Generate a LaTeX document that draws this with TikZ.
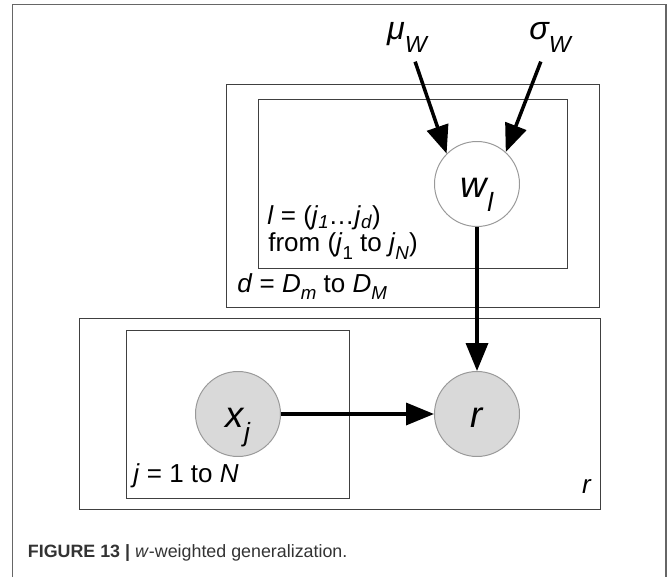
\documentclass[tikz,border=0pt]{standalone}
\usepackage{fontspec}
\setmainfont{Liberation Sans}
\usepackage{xcolor}
\usepackage{tikz}
\usetikzlibrary{arrows.meta}

\newcommand{\lowsub}[2][0.4em]{\raisebox{-#1}{\scalebox{0.72}{#2}}}

\begin{document}
\begin{tikzpicture}[
    plate/.style={draw=black!75, line width=0.7pt},
    var/.style={circle, draw=black!40, line width=0.7pt, fill=white, minimum size=2.125cm, inner sep=0pt, text height=24pt, text depth=5pt, font=\fontsize{26}{30}\selectfont\itshape},
    obs/.style={var, fill=black!15},
    hyper/.style={inner sep=2pt, font=\fontsize{23}{27}\selectfont\itshape},
    lbl/.style={inner sep=0pt, font=\fontsize{18.5}{22}\selectfont},
    arr/.style={line width=2.5pt, -{Triangle[length=0.7cm, width=0.55cm]}},
]
\useasboundingbox (0,0) rectangle (16.8,14.425);

% ---- Cadre de la figure ----
\draw[black!60, line width=1pt] (0.31,0) -- (0.31,14.31) -- (16.65,14.31) -- (16.65,0);

% ---- Plaques ----
\draw[plate] (5.65,6.75) rectangle (14.975,12.325);
\draw[plate] (6.45,7.725) rectangle (14.175,11.95);
\draw[plate] (1.99,1.6875) rectangle (15.0,6.4625);
\draw[plate] (3.15,1.975) rectangle (8.725,6.175);

% ---- Variables ----
\node[var] (wl) at (11.925,9.825) {w\lowsub{l}};
\node[obs] (xj) at (5.95,4.075) {x\lowsub{j}};
\node[obs] (r) at (11.925,4.075) {r};
\node[hyper, anchor=base] (muW) at (10.175,13.425) {μ\lowsub{W}};
\node[hyper, anchor=base] (sigW) at (13.75,13.425) {σ\lowsub{W}};

% ---- Flèches ----
\draw[arr, shorten <=0.15cm] (muW) -- (wl.135);
\draw[arr, shorten <=0.15cm] (sigW) -- (wl.48);
\draw[arr] (wl) -- (r);
\draw[arr] (xj) -- (r);

% ---- Étiquettes des plaques ----
\node[lbl, anchor=base west] (lone) at (6.675,8.8) {\textit{l} = (\textit{j}\lowsub[0.15em]{\textit{1}}…\textit{j}\lowsub[0.15em]{\textit{d}})};
\node[lbl, anchor=base west] (ltwo) at (6.7,8.125) {from (\textit{j}\lowsub[0.3em]{1} to \textit{j}\lowsub[0.3em]{\textit{N}})};
\node[lbl, anchor=base west] (dlbl) at (5.925,7.125) {\textit{d} = \textit{D}\lowsub[0.3em]{\textit{m}} to \textit{D}\lowsub[0.3em]{\textit{M}}};
\node[lbl, anchor=base west] (jlbl) at (3.325,2.375) {\textit{j} = 1 to \textit{N}};
\node[lbl, anchor=base east] (rlbl) at (14.8,2.1) {\textit{r}};

% ---- Légende ----
\node[anchor=base west, inner sep=0pt, text=black!80, font=\fontsize{12.7}{15}\selectfont] (cap) at (0.69,0.5) {\textbf{FIGURE 13 |} \textit{w}-weighted generalization.};

\end{tikzpicture}
\end{document}
